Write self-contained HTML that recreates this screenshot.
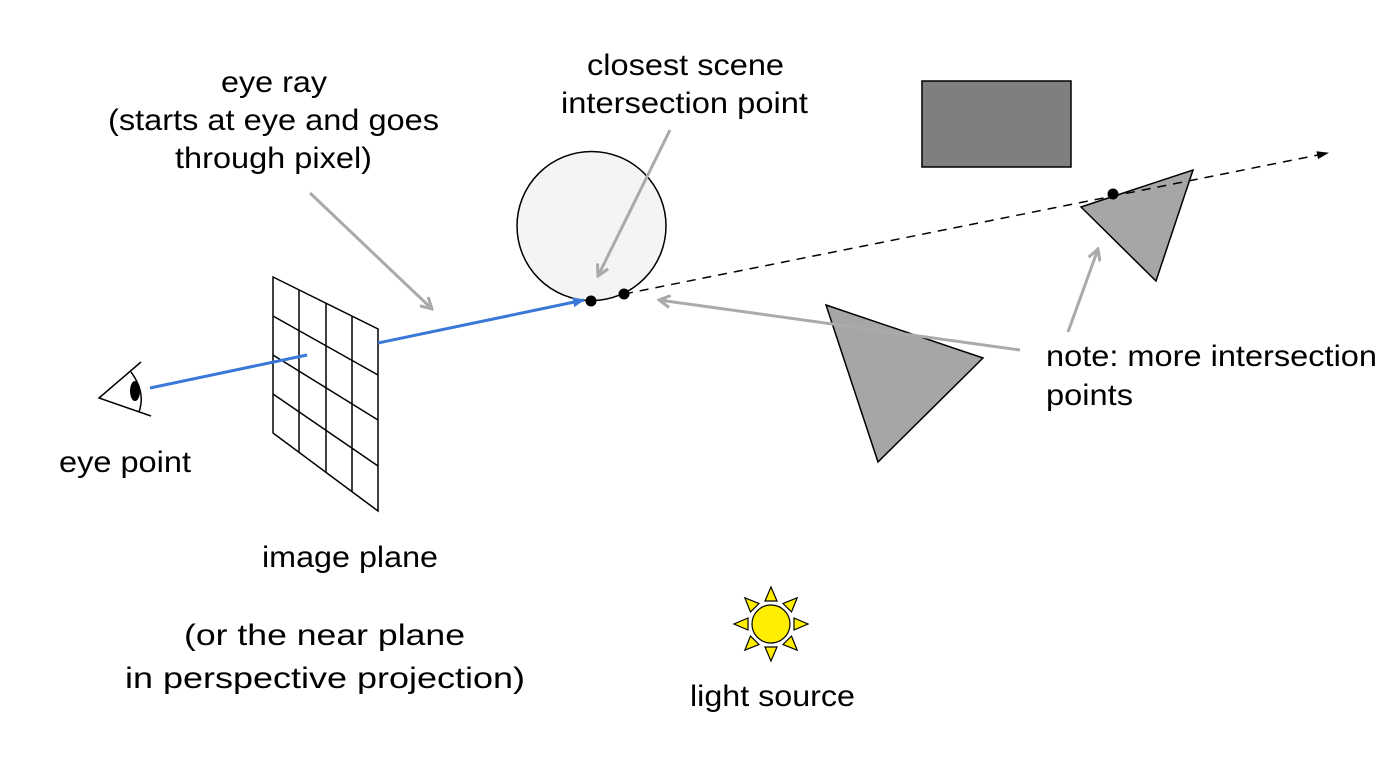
<!DOCTYPE html>
<html><head><meta charset="utf-8"><style>html,body{margin:0;padding:0;background:#fff}svg{display:block}</style></head>
<body>
<svg width="1384" height="761" viewBox="0 0 1384 761" xmlns="http://www.w3.org/2000/svg">
<defs>
<marker id="ag" markerWidth="14" markerHeight="14" refX="12" refY="7" orient="auto" markerUnits="userSpaceOnUse"><path d="M1,1 L12,7 L1,13" fill="none" stroke="#aaa" stroke-width="3"/></marker>
<marker id="ab" markerWidth="12" markerHeight="10" refX="11" refY="5" orient="auto" markerUnits="userSpaceOnUse"><path d="M0,0 L12,5 L0,10 Z" fill="#3a78d8"/></marker>
<marker id="ak" markerWidth="12" markerHeight="10" refX="11" refY="5" orient="auto" markerUnits="userSpaceOnUse"><path d="M0,1 L12,5 L0,9 Z" fill="#000"/></marker>
</defs>
<g font-family="Liberation Sans, sans-serif" font-size="30" fill="#000">
<text x="221" y="92" textLength="106" lengthAdjust="spacingAndGlyphs">eye ray</text>
<text x="108" y="130" textLength="331" lengthAdjust="spacingAndGlyphs">(starts at eye and goes</text>
<text x="175" y="168" textLength="197" lengthAdjust="spacingAndGlyphs">through pixel)</text>
<text x="587" y="75" textLength="197" lengthAdjust="spacingAndGlyphs">closest scene</text>
<text x="561" y="113" textLength="247" lengthAdjust="spacingAndGlyphs">intersection point</text>
<text x="59" y="472" textLength="132" lengthAdjust="spacingAndGlyphs">eye point</text>
<text x="262" y="567" textLength="176" lengthAdjust="spacingAndGlyphs">image plane</text>
<text x="184" y="645" textLength="281" lengthAdjust="spacingAndGlyphs">(or the near plane</text>
<text x="125" y="688" textLength="400" lengthAdjust="spacingAndGlyphs">in perspective projection)</text>
<text x="690" y="706" textLength="165" lengthAdjust="spacingAndGlyphs">light source</text>
<text x="1046" y="366" textLength="331" lengthAdjust="spacingAndGlyphs">note: more intersection</text>
<text x="1046" y="405" textLength="87" lengthAdjust="spacingAndGlyphs">points</text>
</g>
<rect x="922" y="81" width="149" height="86" fill="#7f807e" stroke="#000" stroke-width="1.5"/>
<polygon points="826,305 983,358 878,462" fill="#a6a6a6" stroke="#000" stroke-width="1.5"/>
<polygon points="1081,207 1193,170 1156,281" fill="#a6a6a6" stroke="#000" stroke-width="1.5"/>
<circle cx="591.5" cy="226" r="74.5" fill="#f4f4f4" stroke="#000" stroke-width="1.5"/>
<line x1="624" y1="294" x2="1328" y2="153" stroke="#000" stroke-width="1.5" stroke-dasharray="9,7" marker-end="url(#ak)"/>
<g stroke="#000" stroke-width="1.5" fill="none">
<polygon points="273,277 378,329 378,511 273,433"/>
<line x1="299" y1="290" x2="299" y2="452"/>
<line x1="326" y1="303" x2="326" y2="472"/>
<line x1="352" y1="316" x2="352" y2="492"/>
<line x1="273" y1="316" x2="378" y2="375"/>
<line x1="273" y1="355" x2="378" y2="420"/>
<line x1="273" y1="394" x2="378" y2="466"/>
</g>
<line x1="150" y1="388" x2="307" y2="355" stroke="#3a78d8" stroke-width="3"/>
<line x1="378" y1="343" x2="584" y2="300" stroke="#3a78d8" stroke-width="3" marker-end="url(#ab)"/>
<g stroke="#000" stroke-width="1.5" fill="none">
<polyline points="141,362 99,398 151,416"/>
<path d="M131,372 Q146,392 139,412"/>
</g>
<ellipse cx="135" cy="391" rx="5" ry="10" fill="#000"/>
<circle cx="591" cy="301" r="5.5" fill="#000"/>
<circle cx="624" cy="294" r="5.5" fill="#000"/>
<circle cx="1113" cy="194" r="5.5" fill="#000"/>
<g stroke="#aaa" stroke-width="3" fill="none">
<line x1="310" y1="193" x2="432" y2="309" marker-end="url(#ag)"/>
<line x1="670" y1="130" x2="598" y2="276" marker-end="url(#ag)"/>
<line x1="1020" y1="350" x2="659" y2="300" marker-end="url(#ag)"/>
<line x1="1068" y1="332" x2="1098" y2="249" marker-end="url(#ag)"/>
</g>
<g fill="#ffee00" stroke="#000" stroke-width="1.2">
<circle cx="771" cy="624" r="19"/>
<g id="r"><polygon points="765,601 777,601 771,587"/></g>
<use href="#r" transform="rotate(45 771 624)"/>
<use href="#r" transform="rotate(90 771 624)"/>
<use href="#r" transform="rotate(135 771 624)"/>
<use href="#r" transform="rotate(180 771 624)"/>
<use href="#r" transform="rotate(225 771 624)"/>
<use href="#r" transform="rotate(270 771 624)"/>
<use href="#r" transform="rotate(315 771 624)"/>
</g>
</svg>
</body></html>
